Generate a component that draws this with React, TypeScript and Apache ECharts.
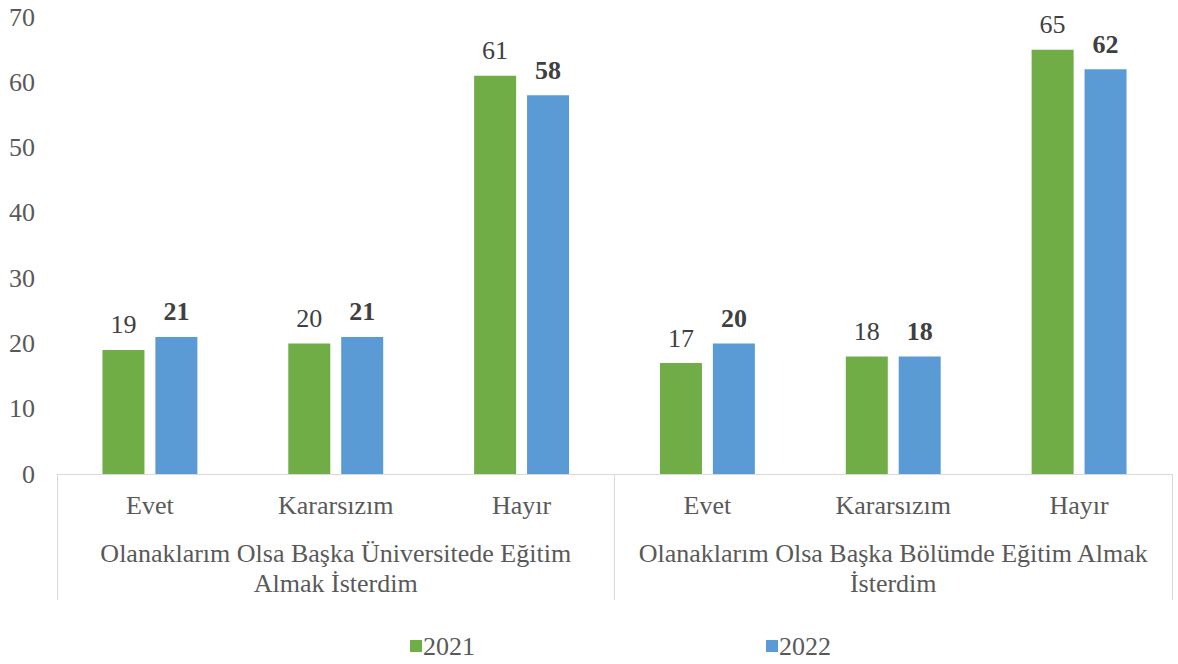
import React, { useEffect, useRef } from "react";
import * as echarts from "echarts";

const answers = ["Evet", "Kararsızım", "Hayır", "Evet", "Kararsızım", "Hayır"];
const groups = [
  "Olanaklarım Olsa Başka Üniversitede Eğitim\nAlmak İsterdim",
  "Olanaklarım Olsa Başka Bölümde Eğitim Almak\nİsterdim",
];
const values2021 = [19, 20, 61, 17, 18, 65];
const values2022 = [21, 21, 58, 20, 18, 62];
const seriesNames = ["2021", "2022"];

const FONT = "Liberation Serif";
const TEXT = "#595959";
const FS = 26;

export default function App() {
  const ref = useRef<HTMLDivElement>(null);
  useEffect(() => {
    document.body.style.margin = "0";
    const chart = echarts.init(ref.current!, null, { renderer: "svg" });
    chart.setOption({
      animation: false,
      textStyle: { fontFamily: FONT },
      grid: { left: 57, right: 6, top: 17, bottom: 190, containLabel: false },
      legend: {
        left: 410,
        top: 633,
        itemWidth: 12,
        itemHeight: 12,
        itemGap: 291,
        icon: "rect",
        padding: 0,
        textStyle: { fontFamily: FONT, fontSize: FS, color: TEXT, padding: [0, 0, 0, -4] },
        data: seriesNames,
      },
      xAxis: [
        {
          type: "category",
          data: answers,
          axisLine: { show: true, lineStyle: { color: "#d9d9d9", width: 1 } },
          axisTick: { show: false },
          axisLabel: { interval: 0, fontFamily: FONT, fontSize: FS, color: TEXT, margin: 18 },
        },
        {
          type: "category",
          data: groups,
          position: "bottom",
          axisLine: { show: false },
          axisTick: { show: true, interval: 0, length: 126, alignWithLabel: false, lineStyle: { color: "#d9d9d9" } },
          axisLabel: { interval: 0, fontFamily: FONT, fontSize: FS, color: TEXT, margin: 64, lineHeight: 30 },
        },
      ],
      yAxis: {
        type: "value",
        min: 0,
        max: 70,
        interval: 10,
        splitLine: { show: false },
        axisLine: { show: false },
        axisTick: { show: false },
        axisLabel: { fontFamily: FONT, fontSize: FS, color: TEXT, margin: 22 },
      },
      series: [
        {
          name: seriesNames[0],
          type: "bar",
          data: values2021,
          barWidth: 42,
          barGap: "26%",
          itemStyle: { color: "#70AD47" },
          label: { show: true, position: "top", distance: 12, fontFamily: FONT, fontSize: FS, color: "#404040" },
        },
        {
          name: seriesNames[1],
          type: "bar",
          data: values2022,
          barWidth: 42,
          barGap: "26%",
          itemStyle: { color: "#5B9BD5" },
          label: { show: true, position: "top", distance: 12, fontFamily: FONT, fontSize: FS, fontWeight: "bold", color: "#404040" },
        },
      ],
    });
    return () => chart.dispose();
  }, []);
  return <div ref={ref} style={{ width: 1178, height: 664 }} />;
}
